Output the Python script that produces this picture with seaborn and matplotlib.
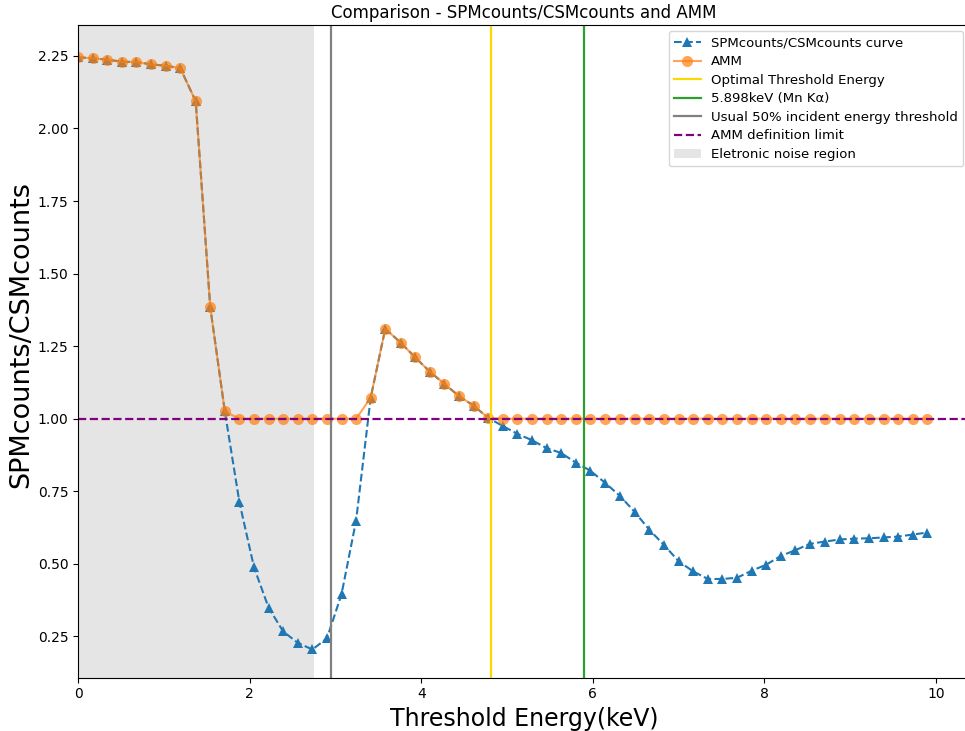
import numpy as np
import pandas as pd
import matplotlib
matplotlib.use("Agg")
import matplotlib.pyplot as plt
import seaborn as sns

# ---- data ----
threshold_kev = [0.00, 0.17, 0.34, 0.51, 0.68, 0.85, 1.02, 1.19, 1.37, 1.54,
                 1.71, 1.88, 2.05, 2.22, 2.39, 2.56, 2.73, 2.90, 3.07, 3.24,
                 3.41, 3.58, 3.76, 3.93, 4.10, 4.27, 4.44, 4.61, 4.78, 4.95,
                 5.12, 5.29, 5.46, 5.63, 5.80, 5.97, 6.14, 6.32, 6.49, 6.66,
                 6.83, 7.00, 7.17, 7.34, 7.51, 7.68, 7.85, 8.02, 8.19, 8.36,
                 8.53, 8.71, 8.88, 9.05, 9.22, 9.39, 9.56, 9.73, 9.90]

spm_csm_ratio = [2.245, 2.242, 2.237, 2.230, 2.229, 2.221, 2.216, 2.208, 2.094, 1.384,
                 1.025, 0.712, 0.488, 0.349, 0.267, 0.228, 0.205, 0.243, 0.395, 0.649,
                 1.072, 1.310, 1.262, 1.211, 1.162, 1.120, 1.078, 1.045, 1.003, 0.975,
                 0.948, 0.926, 0.899, 0.882, 0.849, 0.821, 0.780, 0.733, 0.678, 0.617,
                 0.565, 0.509, 0.474, 0.448, 0.448, 0.452, 0.476, 0.497, 0.527, 0.547,
                 0.569, 0.577, 0.584, 0.587, 0.588, 0.591, 0.594, 0.601, 0.608]

amm = [2.245, 2.242, 2.237, 2.230, 2.229, 2.221, 2.216, 2.208, 2.094, 1.384,
       1.025, 1.000, 1.000, 1.000, 1.000, 1.000, 1.000, 1.000, 1.000, 1.000,
       1.072, 1.310, 1.262, 1.211, 1.162, 1.120, 1.078, 1.045, 1.003, 1.000,
       1.000, 1.000, 1.000, 1.000, 1.000, 1.000, 1.000, 1.000, 1.000, 1.000,
       1.000, 1.000, 1.000, 1.000, 1.000, 1.000, 1.000, 1.000, 1.000, 1.000,
       1.000, 1.000, 1.000, 1.000, 1.000, 1.000, 1.000, 1.000, 1.000]

optimal_threshold = 4.81
mn_kalpha = 5.898
usual_threshold = 2.949
amm_limit = 1.0
noise_region = (0.0, 2.75)

legend_labels = ["SPMcounts/CSMcounts curve", "AMM", "Optimal Threshold Energy",
                 "5.898keV (Mn K\u03b1)", "Usual 50% incident energy threshold",
                 "AMM definition limit", "Eletronic noise region"]

df = pd.DataFrame({"E": threshold_kev, "ratio": spm_csm_ratio, "amm": amm})

fig = plt.figure(figsize=(9.65, 7.31), dpi=100)
ax = fig.add_axes([0.081, 0.073, 0.924, 0.893])

ax.axvspan(noise_region[0], noise_region[1], color="gray", alpha=0.2,
           lw=0, label=legend_labels[6], zorder=0)

sns.lineplot(data=df, x="E", y="ratio", ax=ax, color="#1f77b4", linestyle="--",
             marker="^", markersize=7, markeredgewidth=0, linewidth=1.5,
             label=legend_labels[0])
sns.lineplot(data=df, x="E", y="amm", ax=ax, color="#ff7f0e", linestyle="-",
             marker="o", markersize=8, markeredgewidth=0, linewidth=1.5,
             alpha=0.7, label=legend_labels[1])

ax.axvline(optimal_threshold, color="gold", lw=1.6, label=legend_labels[2])
ax.axvline(mn_kalpha, color="tab:green", lw=1.6, label=legend_labels[3])
ax.axvline(usual_threshold, color="gray", lw=1.6, label=legend_labels[4])
ax.axhline(amm_limit, color="purple", lw=1.6, linestyle="--", label=legend_labels[5])

ax.set_xlim(0, 10.395)
ax.set_ylim(0.108, 2.357)
ax.set_xticks([0, 2, 4, 6, 8, 10])
ax.set_yticks([0.25, 0.50, 0.75, 1.00, 1.25, 1.50, 1.75, 2.00, 2.25])
ax.tick_params(axis="both", labelsize=10)

ax.set_title("Comparison - SPMcounts/CSMcounts and AMM", fontsize=12, pad=5)
ax.set_xlabel("Threshold Energy(keV)", fontsize=17)
ax.set_ylabel("SPMcounts/CSMcounts", fontsize=19.5)
ax.yaxis.set_label_coords(-0.049, 0.525)

handles, labels = ax.get_legend_handles_labels()
order = [labels.index(l) for l in legend_labels]
ax.legend([handles[i] for i in order], [labels[i] for i in order],
          loc="upper right", fontsize=9.5, labelspacing=0.42)

fig.savefig("out.png", dpi=100)
